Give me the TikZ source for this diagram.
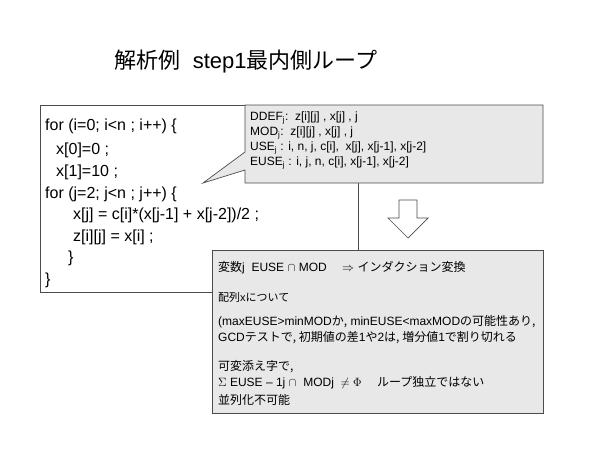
\documentclass[tikz,border=0pt]{standalone}
\usepackage{fontspec}
\setmainfont{Liberation Sans}
\newfontfamily\jp{Noto Sans CJK JP}
\definecolor{cbg}{HTML}{E8E8E8}
\begin{document}
\begin{tikzpicture}[x=1pt,y=-1pt,
  code/.style={anchor=west,inner sep=0pt,font=\fontsize{16}{16}\selectfont},
  ctext/.style={anchor=west,inner sep=0pt,font=\fontsize{12}{12}\selectfont},
  ntext/.style={anchor=west,inner sep=0pt,font=\fontsize{12}{12}\selectfont},
  boxline/.style={draw=black!70,line width=0.7pt}]
\path[use as bounding box] (0,0) rectangle (600,450);
\node[inner sep=0pt,font=\fontsize{22}{22}\selectfont] (title) at (246,62) {{\jp 解析例}\ \ step1{\jp 最内側ループ}};
% code box
\draw[boxline,fill=white] (40,105) rectangle (358,292);
\node[code] (l1) at (45,126) {for (i=0; i<n ; i++) \{};
\node[code] (l2) at (56,150) {x[0]=0 ;};
\node[code] (l3) at (56,172) {x[1]=10 ;};
\node[code] (l4) at (45,194) {for (j=2; j<n ; j++) \{};
\node[code] (l5) at (73,215) {x[j] = c[i]*(x[j-1] + x[j-2])/2 ;};
\node[code] (l6) at (73,237) {z[i][j] = x[i] ;};
\node[code] (l7) at (68,258) {\}};
\node[code] (l8) at (45,280) {\}};
% callout 1
\draw[boxline,fill=cbg] (245,105) -- (543,105) -- (543,183) -- (245,183) -- (245,170) -- (203,183) -- (245,152) -- cycle;
\node[ctext] (d1) at (250,118) {DDEF\textsubscript{j}:\ \ z[i][j] , x[j] , j};
\node[ctext] (d2) at (250,133) {MOD\textsubscript{j}:\ \ z[i][j] , x[j] , j};
\node[ctext] (d3) at (250,148) {USE\textsubscript{j} : i, n, j, c[i], \ x[j], x[j-1], x[j-2]};
\node[ctext] (d4) at (250,163) {EUSE\textsubscript{j} : i, j, n, c[i], x[j-1], x[j-2]};
% hollow arrow
\draw[black!70,fill=white,line width=0.7pt] (399,200) -- (417,200) -- (417,218) -- (428,218) -- (408,238) -- (388,218) -- (399,218) -- cycle;
% callout 2
\draw[boxline,fill=cbg] (212,250) rectangle (543,413);
\node[ntext] (e1) at (218,268) {{\jp 変数}j\ \ EUSE $\cap$ MOD \quad $\Rightarrow$ {\jp インダクション変換}};
\node[ctext,font=\fontsize{11}{11}\selectfont] (e2) at (218,297) {{\jp 配列}x{\jp について}};
\node[ntext] (e3) at (218,322) {(maxEUSE>minMOD{\jp か,} minEUSE<maxMOD{\jp の可能性あり,}};
\node[ntext] (e4) at (218,338) {GCD{\jp テストで, 初期値の差}1{\jp や}2{\jp は, 増分値}1{\jp で割り切れる}};
\node[ntext] (e5) at (218,367) {{\jp 可変添え字で,}};
\node[ntext] (e6) at (218,383) {$\Sigma$ EUSE -- 1j $\cap$\ \ MODj \ $\neq\Phi$ \quad {\jp ループ独立ではない}};
\node[ntext] (e7) at (218,400) {{\jp 並列化不可能}};
\end{tikzpicture}
\end{document}
